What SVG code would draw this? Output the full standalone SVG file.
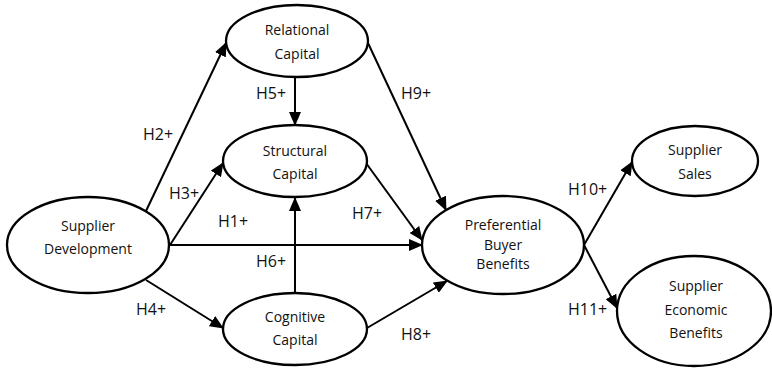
<svg xmlns="http://www.w3.org/2000/svg" width="772" height="368" viewBox="0 0 772 368">
<style>
.n{fill:#fff;stroke:#000;stroke-width:2.3}
.t{font-family:"Open Sans","Liberation Sans",sans-serif;font-size:14px;fill:#111;text-anchor:middle}
.l{font-family:"Open Sans","Liberation Sans",sans-serif;font-size:16px;fill:#111}
.e{stroke:#000;stroke-width:2;fill:none;marker-end:url(#a)}
</style>
<defs>
<marker id="a" viewBox="0 0 14 12" refX="13" refY="6" markerWidth="14" markerHeight="12" markerUnits="userSpaceOnUse" orient="auto">
<path d="M0,0 L14,6 L0,12 z" fill="#000"/>
</marker>
</defs>
<g id="connectors">
<line class="e" x1="146" y1="211" x2="226" y2="43"/>
<line class="e" x1="295" y1="77" x2="295" y2="125"/>
<line class="e" x1="170" y1="245" x2="223" y2="163"/>
<line class="e" x1="169" y1="245" x2="422" y2="245"/>
<line class="e" x1="146" y1="280" x2="223" y2="328"/>
<line class="e" x1="295" y1="293" x2="295" y2="198"/>
<line class="e" x1="366" y1="163" x2="422" y2="240"/>
<line class="e" x1="368" y1="43" x2="446" y2="210"/>
<line class="e" x1="367" y1="328" x2="447" y2="281"/>
<line class="e" x1="584" y1="245" x2="632" y2="162"/>
<line class="e" x1="584" y1="245" x2="617" y2="308"/>
</g>
<g id="relational">
<ellipse class="n" cx="297" cy="41" rx="71" ry="36"/>
<text class="t" x="297" y="35">Relational</text>
<text class="t" x="297" y="59">Capital</text>
</g>
<g id="structural">
<ellipse class="n" cx="295" cy="161" rx="72" ry="36"/>
<text class="t" x="295" y="156">Structural</text>
<text class="t" x="295" y="179">Capital</text>
</g>
<g id="supplier-development">
<ellipse class="n" cx="88" cy="245" rx="81" ry="48"/>
<text class="t" x="88" y="231">Supplier</text>
<text class="t" x="88" y="254">Development</text>
</g>
<g id="cognitive">
<ellipse class="n" cx="295" cy="329" rx="72" ry="36"/>
<text class="t" x="295" y="322">Cognitive</text>
<text class="t" x="295" y="345">Capital</text>
</g>
<g id="preferential">
<ellipse class="n" cx="503" cy="245" rx="81" ry="49"/>
<text class="t" x="503" y="230">Preferential</text>
<text class="t" x="503" y="250">Buyer</text>
<text class="t" x="503" y="269">Benefits</text>
</g>
<g id="supplier-sales">
<ellipse class="n" cx="695" cy="161" rx="63" ry="35"/>
<text class="t" x="695" y="155">Supplier</text>
<text class="t" x="695" y="179">Sales</text>
</g>
<g id="supplier-economic">
<ellipse class="n" cx="694" cy="311" rx="77" ry="55"/>
<text class="t" x="696" y="291">Supplier</text>
<text class="t" x="696" y="315">Economic</text>
<text class="t" x="696" y="338">Benefits</text>
</g>
<g id="labels">
<text class="l" x="143" y="140">H2+</text>
<text class="l" x="256" y="99">H5+</text>
<text class="l" x="169" y="199">H3+</text>
<text class="l" x="218" y="227">H1+</text>
<text class="l" x="256" y="267">H6+</text>
<text class="l" x="136" y="315">H4+</text>
<text class="l" x="352" y="219">H7+</text>
<text class="l" x="401" y="99">H9+</text>
<text class="l" x="568" y="195">H10+</text>
<text class="l" x="568" y="315">H11+</text>
<text class="l" x="401" y="340">H8+</text>
</g>
</svg>
